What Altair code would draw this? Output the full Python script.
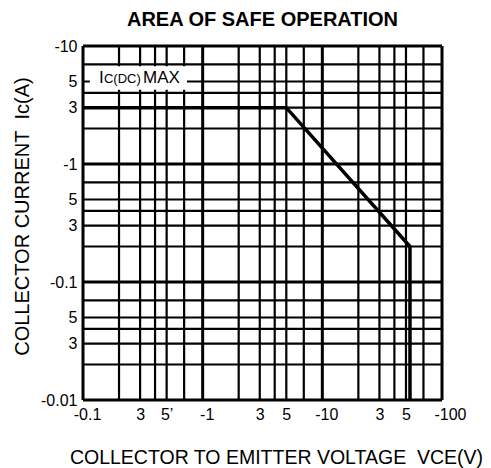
import altair as alt
import pandas as pd
import json

# Grid lines (log-log chart paper)
x_grid_minor = [0.2, 0.3, 0.4, 0.5, 0.7, 2, 3, 4, 5, 7, 20, 30, 40, 50, 70]
x_grid_major = [0.1, 1, 10, 100]
y_grid_minor = [0.02, 0.03, 0.04, 0.05, 0.07, 0.2, 0.3, 0.4, 0.5, 0.7, 2, 3, 4, 5, 7]
y_grid_major = [0.01, 0.1, 1, 10]

# Axis tick labels
x_tick_vals = [0.1, 0.3, 0.5, 1, 3, 5, 10, 30, 50, 100]
x_tick_text = ["-0.1", "3", "5\u2019", "-1", "3", "5", "-10", "3", "5", "-100"]
y_tick_vals = [0.01, 0.03, 0.05, 0.1, 0.3, 0.5, 1, 3, 5, 10]
y_tick_text = ["-0.01", "3", "5", "-0.1", "3", "5", "-1", "3", "5", "-10"]

# SOA boundary (VCE in V, IC in A; magnitudes)
curve_v = [0.1, 5, 54, 54]
curve_i = [3, 3, 0.2, 0.01]

# Label box for Ic(DC)MAX
box_x = [0.114]
box_x2 = [0.74]
box_y = [4.25]
box_y2 = [6.75]

FONT = "Liberation Sans"

xs = alt.Scale(type="log", domain=[0.1, 100], nice=False)
ys = alt.Scale(type="log", domain=[0.01, 10], nice=False)


def label_expr(vals, texts):
    return "%s[indexof(%s, datum.value)]" % (json.dumps(texts), json.dumps(vals))


x_axis = alt.Axis(
    values=x_tick_vals,
    labelExpr=label_expr(x_tick_vals, x_tick_text),
    grid=False, ticks=False, domain=False,
    labelFont=FONT, labelFontSize=16, labelColor="black",
    labelPadding=6, labelFlush=False, labelOverlap=False,
    labelOffset={"condition": [
        {"test": "datum.value >= 99", "value": 8},
        {"test": "datum.value == 0.1 || datum.value == 1 || datum.value == 10", "value": 4},
    ], "value": 0},
    title="COLLECTOR TO EMITTER VOLTAGE\u00a0\u00a0VCE(V)",
    titleFont=FONT, titleFontSize=19.5, titleFontWeight="normal", titleColor="black",
    titleX=193, titleY=63, titleBaseline="alphabetic", titleAlign="center",
)

y_axis = alt.Axis(
    values=y_tick_vals,
    labelExpr=label_expr(y_tick_vals, y_tick_text),
    grid=False, ticks=False, domain=False,
    labelFont=FONT, labelFontSize=16, labelColor="black",
    labelPadding=6, labelFlush=False, labelOverlap=False,
    title="COLLECTOR CURRENT\u00a0\u00a0Ic(A)",
    titleFont=FONT, titleFontSize=20, titleFontWeight="normal", titleColor="black",
    titleX=-61, titleY=170, titleBaseline="middle", titleAlign="center", titleAngle=-90,
)

xg_minor = pd.DataFrame({"v": x_grid_minor})
xg_major = pd.DataFrame({"v": x_grid_major})
yg_minor = pd.DataFrame({"v": y_grid_minor})
yg_major = pd.DataFrame({"v": y_grid_major})
curve = pd.DataFrame({"v": curve_v, "i": curve_i, "k": list(range(len(curve_v)))})
box = pd.DataFrame({"v": box_x, "v2": box_x2, "i": box_y, "i2": box_y2})

base_axes = alt.Chart(curve).mark_point(opacity=0).encode(
    x=alt.X("v:Q", scale=xs, axis=x_axis),
    y=alt.Y("i:Q", scale=ys, axis=y_axis),
)

vminor = alt.Chart(xg_minor).mark_rule(color="black", strokeWidth=2.2).encode(
    x=alt.X("v:Q", scale=xs))
vmajor = alt.Chart(xg_major).mark_rule(color="black", strokeWidth=3).encode(
    x=alt.X("v:Q", scale=xs))
hminor = alt.Chart(yg_minor).mark_rule(color="black", strokeWidth=2.2).encode(
    y=alt.Y("v:Q", scale=ys))
hmajor = alt.Chart(yg_major).mark_rule(color="black", strokeWidth=3).encode(
    y=alt.Y("v:Q", scale=ys))

white_box = alt.Chart(box).mark_rect(color="white").encode(
    x=alt.X("v:Q", scale=xs), x2="v2:Q",
    y=alt.Y("i:Q", scale=ys), y2="i2:Q",
)

lab_df = pd.DataFrame({"v": [0.136], "i": [5.0]})
lab_I = alt.Chart(lab_df).mark_text(
    text="I", font=FONT, fontSize=17, align="left", baseline="alphabetic", dx=0, dy=1, color="black"
).encode(x=alt.X("v:Q", scale=xs), y=alt.Y("i:Q", scale=ys))
lab_sub = alt.Chart(lab_df).mark_text(
    text="C(DC)", font=FONT, fontSize=13, align="left", baseline="alphabetic", dx=5, dy=1, color="black"
).encode(x=alt.X("v:Q", scale=xs), y=alt.Y("i:Q", scale=ys))
lab_max = alt.Chart(lab_df).mark_text(
    text="MAX", font=FONT, fontSize=17, align="left", baseline="alphabetic", dx=44, dy=1, color="black"
).encode(x=alt.X("v:Q", scale=xs), y=alt.Y("i:Q", scale=ys))

soa = alt.Chart(curve).mark_line(color="black", strokeWidth=3.5, strokeJoin="miter").encode(
    x=alt.X("v:Q", scale=xs),
    y=alt.Y("i:Q", scale=ys),
    order="k:Q",
)

chart = alt.layer(
    base_axes, vminor, hminor, vmajor, hmajor, white_box, lab_I, lab_sub, lab_max, soa
).properties(
    width=359, height=354,
    title=alt.TitleParams(
        "AREA OF SAFE OPERATION", font=FONT, fontSize=20, fontWeight="bold",
        color="black", anchor="middle", offset=8,
    ),
    padding={"left": 75, "top": 38, "right": 41, "bottom": 68},
    autosize=alt.AutoSizeParams(type="none"),
).configure_view(
    stroke=None
).configure(background="white")

chart.save("out.html", embed_options={"renderer": "svg", "actions": False})
